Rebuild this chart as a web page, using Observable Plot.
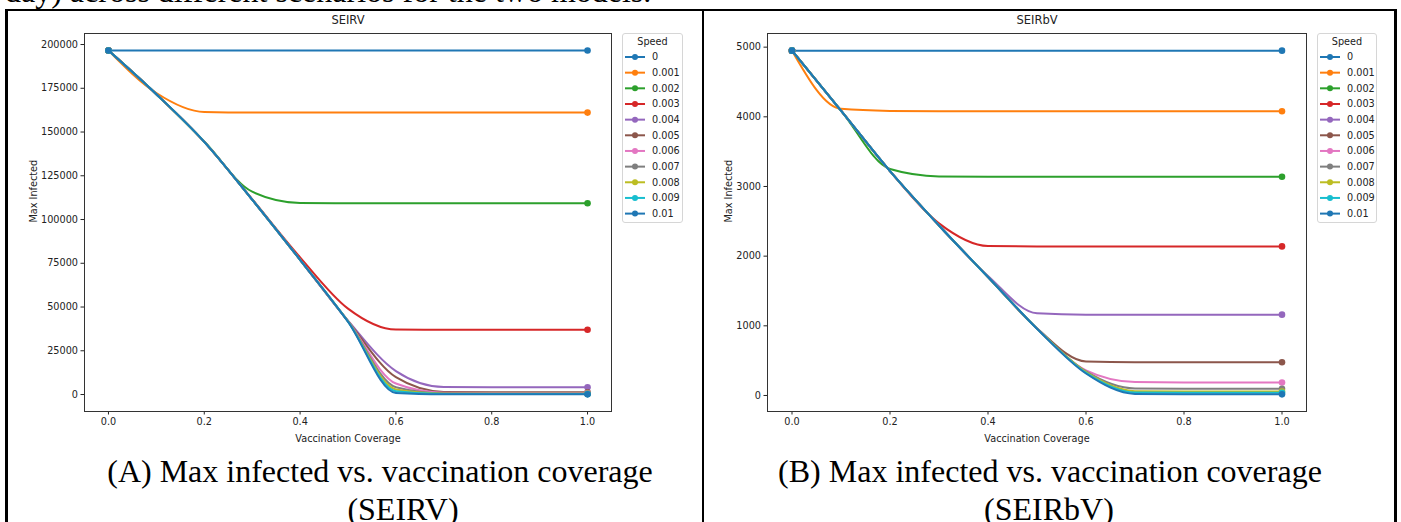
<!DOCTYPE html>
<html><head><meta charset="utf-8">
<script src="https://cdn.jsdelivr.net/npm/d3@7"></script>
<script src="https://cdn.jsdelivr.net/npm/@observablehq/plot@0.6"></script>
<style>
html,body{margin:0;padding:0;background:#fff;}
body{width:1401px;height:522px;position:relative;overflow:hidden;}
.serif{position:absolute;font-family:"Liberation Serif","Times New Roman",serif;font-size:32px;line-height:32px;color:#000;white-space:nowrap;}
.cap{text-align:center;width:700px;}
.rule{position:absolute;background:#000;z-index:5;}
.chart{position:absolute;top:0;}
.legend{position:absolute;top:33px;height:190px;border:1px solid #d6d6d6;border-radius:3px;background:rgba(255,255,255,0.85);box-sizing:border-box;z-index:4;}
</style></head><body>
<div class="serif" style="left:5px;top:-25px;">day) across different scenarios for the two models.</div>
<div id="chartA" class="chart" style="left:0px;"></div>
<div id="chartB" class="chart" style="left:700px;"></div>
<div class="rule" style="left:5px;top:9px;width:1392px;height:2px;"></div>
<div class="rule" style="left:5px;top:9px;width:2.5px;height:520px;"></div>
<div class="rule" style="left:702px;top:9px;width:2px;height:520px;"></div>
<div class="rule" style="left:1394px;top:9px;width:2.5px;height:520px;"></div>
<div class="serif cap" style="left:30px;top:455px;">(A) Max infected vs. vaccination coverage</div>
<div class="serif cap" style="left:53px;top:493px;">(SEIRV)</div>
<div class="serif cap" style="left:700px;top:455px;">(B) Max infected vs. vaccination coverage</div>
<div class="serif cap" style="left:699px;top:493px;">(SEIRbV)</div>
<script>
// ---- data ----
const coverage = [0, 0.1, 0.2, 0.3, 0.4, 0.5, 0.6, 0.7, 0.8, 0.9, 1.0];
const speeds = ["0", "0.001", "0.002", "0.003", "0.004", "0.005", "0.006", "0.007", "0.008", "0.009", "0.01"];
const colors = ["#1f77b4", "#ff7f0e", "#2ca02c", "#d62728", "#9467bd", "#8c564b", "#e377c2", "#7f7f7f", "#bcbd22", "#17becf", "#1f77b4"];
const xTicks = [0, 0.2, 0.4, 0.6, 0.8, 1.0];

// SEIRV (A)
const seirv_0     = [196600, 196600, 196600, 196600, 196600, 196600, 196600, 196600, 196600, 196600, 196600];
const seirv_0001  = [196600, 172300, 161400, 161100, 161100, 161100, 161100, 161100, 161100, 161100, 161100];
const seirv_0002  = [196600, 171600, 144600, 115900, 109500, 109300, 109300, 109300, 109300, 109300, 109300];
const seirv_0003  = [196600, 171600, 144400, 111600, 78400, 49100, 37100, 37000, 37000, 37000, 37000];
const seirv_0004  = [196600, 171600, 144400, 111400, 77000, 42200, 13400, 4300, 4200, 4200, 4200];
const seirv_0005  = [196600, 171600, 144400, 111400, 77000, 42000, 9900, 1500, 1300, 1300, 1300];
const seirv_0006  = [196600, 171600, 144400, 111400, 77000, 42000, 6300, 1000, 900, 900, 900];
const seirv_0007  = [196600, 171600, 144400, 111400, 77000, 41900, 4200, 700, 600, 600, 600];
const seirv_0008  = [196600, 171600, 144400, 111400, 77000, 41800, 2900, 500, 400, 400, 400];
const seirv_0009  = [196600, 171600, 144400, 111400, 77000, 41700, 1900, 300, 250, 250, 250];
const seirv_001   = [196600, 171600, 144400, 111400, 77000, 41600, 900, 150, 100, 100, 100];
const seirvTicks = [0, 25000, 50000, 75000, 100000, 125000, 150000, 175000, 200000];

// SEIRbV (B)
const seirbv_0    = [4950, 4950, 4950, 4950, 4950, 4950, 4950, 4950, 4950, 4950, 4950];
const seirbv_0001 = [4950, 4115, 4085, 4080, 4080, 4080, 4080, 4080, 4080, 4080, 4080];
const seirbv_0002 = [4950, 4090, 3250, 3145, 3140, 3140, 3140, 3140, 3140, 3140, 3140];
const seirbv_0003 = [4950, 4090, 3220, 2470, 2145, 2140, 2140, 2140, 2140, 2140, 2140];
const seirbv_0004 = [4950, 4090, 3220, 2440, 1715, 1180, 1160, 1160, 1160, 1160, 1160];
const seirbv_0005 = [4950, 4090, 3220, 2440, 1700, 965, 488, 478, 478, 478, 478];
const seirbv_0006 = [4950, 4090, 3220, 2440, 1700, 960, 360, 192, 186, 186, 186];
const seirbv_0007 = [4950, 4090, 3220, 2440, 1700, 960, 345, 100, 96, 96, 96];
const seirbv_0008 = [4950, 4090, 3220, 2440, 1700, 960, 335, 62, 58, 58, 58];
const seirbv_0009 = [4950, 4090, 3220, 2440, 1700, 960, 325, 42, 38, 38, 38];
const seirbv_001  = [4950, 4090, 3220, 2440, 1700, 958, 315, 22, 16, 16, 16];
const seirbvTicks = [0, 1000, 2000, 3000, 4000, 5000];

const seirvSeries = [seirv_0, seirv_0001, seirv_0002, seirv_0003, seirv_0004, seirv_0005, seirv_0006, seirv_0007, seirv_0008, seirv_0009, seirv_001];
const seirbvSeries = [seirbv_0, seirbv_0001, seirbv_0002, seirbv_0003, seirbv_0004, seirbv_0005, seirbv_0006, seirbv_0007, seirbv_0008, seirbv_0009, seirbv_001];

const FONT = "DejaVu Sans";

function makeChart(series, opts) {
  const marks = [];
  speeds.forEach((s, i) => {
    const rows = coverage.map((c, j) => ({speed: s, x: c, y: series[i][j]}));
    marks.push(Plot.line(rows, {x: "x", y: "y", stroke: "speed", strokeWidth: 2, curve: "monotone-x"}));
    marks.push(Plot.dot(rows.filter((r, j) => j === 0 || j === rows.length - 1), {x: "x", y: "y", fill: "speed", r: 3.3}));
  });
  marks.push(Plot.axisX({ticks: xTicks, tickFormat: d3.format(".1f"), tickSize: 3.5, tickPadding: 3, label: null, fontSize: 9.7}));
  marks.push(Plot.axisY({ticks: opts.yTicks, tickFormat: d3.format("d"), tickSize: 3.5, tickPadding: 3, label: null, fontSize: 9.7}));
  marks.push(Plot.text(["Vaccination Coverage"], {frameAnchor: "bottom", dy: 27, lineAnchor: "middle", text: d => d, fontSize: 9.7}));
  marks.push(Plot.text(["Max Infected"], {frameAnchor: "left", rotate: -90, dx: opts.labelDx, lineAnchor: "middle", text: d => d, fontSize: 9.7}));
  marks.push(Plot.text([opts.title], {frameAnchor: "top", dy: -13, lineAnchor: "middle", text: d => d, fontSize: 11.5}));
  marks.push(Plot.frame({stroke: "#333", strokeWidth: 1}));
  return Plot.plot({
    width: 700, height: 450,
    marginTop: 33, marginBottom: 39, marginLeft: opts.marginLeft, marginRight: opts.marginRight,
    x: {domain: [-0.05, 1.05]},
    y: {domain: opts.yDomain},
    color: {domain: speeds, range: colors},
    style: {fontFamily: FONT, fontSize: "9.7px", color: "#222", background: "transparent", overflow: "visible"},
    marks
  });
}

function makeLegend(left, width) {
  const div = document.createElement("div");
  div.className = "legend";
  div.style.left = left + "px";
  div.style.width = width + "px";
  const svg = d3.create("svg").attr("width", width).attr("height", 190)
    .style("position", "absolute").style("left", "-1px").style("top", "-1px")
    .style("font-family", FONT).style("font-size", "9.7px");
  svg.append("text").attr("x", width / 2).attr("y", 9).attr("dy", "0.35em")
    .attr("text-anchor", "middle").attr("fill", "#222").text("Speed");
  speeds.forEach((s, i) => {
    const y = 24 + i * 15.66;
    const g = svg.append("g");
    g.append("line").attr("x1", 3).attr("x2", 23).attr("y1", y).attr("y2", y)
      .attr("stroke", colors[i]).attr("stroke-width", 2);
    g.append("circle").attr("cx", 13).attr("cy", y).attr("r", 3).attr("fill", colors[i]);
    g.append("text").attr("x", 30).attr("y", y).attr("dy", "0.35em").attr("fill", "#222").text(s);
  });
  div.appendChild(svg.node());
  document.body.appendChild(div);
}

document.getElementById("chartA").appendChild(makeChart(seirvSeries, {
  yTicks: seirvTicks, yDomain: [-9700, 206300], marginLeft: 84, marginRight: 89, labelDx: -51, title: "SEIRV"
}));
document.getElementById("chartB").appendChild(makeChart(seirbvSeries, {
  yTicks: seirbvTicks, yDomain: [-230, 5196], marginLeft: 67, marginRight: 94, labelDx: -39, title: "SEIRbV"
}));
makeLegend(622, 61);
makeLegend(1317, 60);
</script>
</body></html>
